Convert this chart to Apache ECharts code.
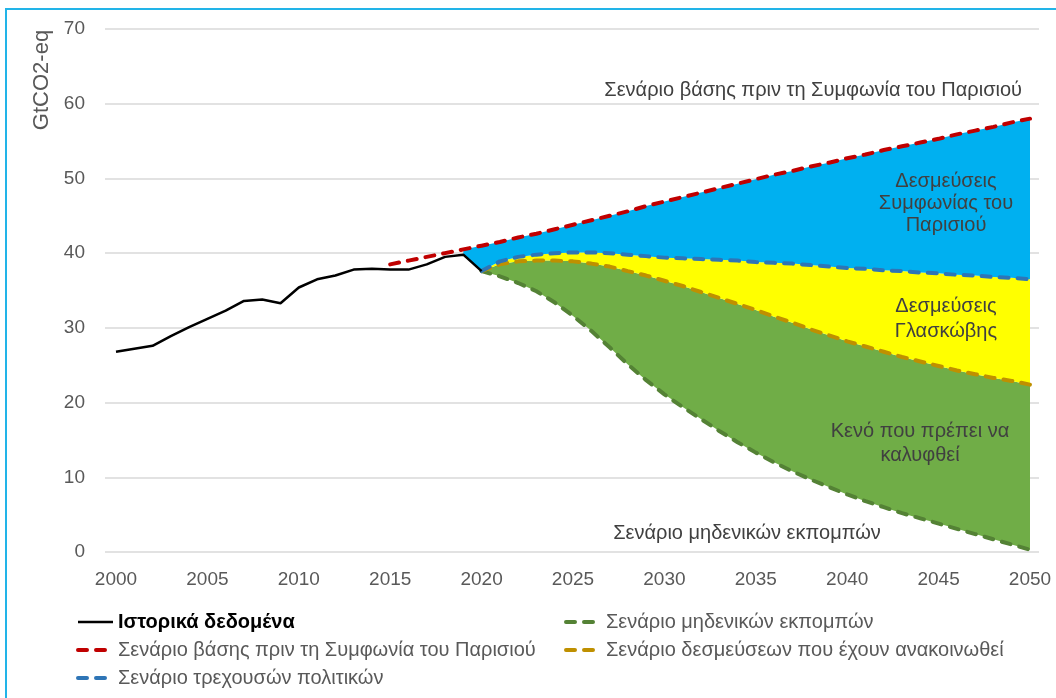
<!DOCTYPE html>
<html>
<head>
<meta charset="utf-8">
<script src="https://cdn.jsdelivr.net/npm/echarts@6/dist/echarts.min.js"></script>
<style>
html, body { margin: 0; padding: 0; background: #fff; }
#frame { position: absolute; left: 5px; top: 8px; width: 1060px; height: 700px; border-top: 2px solid #22b4e8; border-left: 2px solid #22b4e8; }
#main { position: absolute; left: 0; top: 0; width: 1056px; height: 698px; }
</style>
</head>
<body>
<div id="frame"></div>
<div id="main"></div>
<script>
// ---- data (GtCO2-eq) ----
var histYears = [2000, 2001, 2002, 2003, 2004, 2005, 2006, 2007, 2008, 2009, 2010,
  2011, 2012, 2013, 2014, 2015, 2016, 2017, 2018, 2019, 2020];
var histValues = [26.8, 27.2, 27.6, 28.9, 30.1, 31.2, 32.3, 33.6, 33.8, 33.3, 35.4,
  36.5, 37.0, 37.8, 37.9, 37.8, 37.8, 38.5, 39.5, 39.8, 37.6];

var baseYears = [2015, 2016, 2017, 2018, 2019, 2020, 2021, 2022, 2023, 2024, 2025,
  2026, 2027, 2028, 2029, 2030, 2031, 2032, 2033, 2034, 2035, 2036, 2037, 2038,
  2039, 2040, 2041, 2042, 2043, 2044, 2045, 2046, 2047, 2048, 2049, 2050];
var baseValues = [38.5, 39.0, 39.5, 40.0, 40.5, 41.0, 41.5, 42.1, 42.6, 43.2, 43.8,
  44.4, 45.0, 45.6, 46.3, 46.9, 47.5, 48.1, 48.7, 49.3, 49.9, 50.5, 51.0, 51.6,
  52.1, 52.7, 53.2, 53.8, 54.3, 54.8, 55.3, 55.9, 56.4, 56.9, 57.5, 58.0];

var projYears = [2020, 2021, 2022, 2023, 2024, 2025, 2026, 2027, 2028, 2029, 2030,
  2031, 2032, 2033, 2034, 2035, 2036, 2037, 2038, 2039, 2040, 2041, 2042, 2043,
  2044, 2045, 2046, 2047, 2048, 2049, 2050];
var currentValues = [37.6, 38.9, 39.5, 39.8, 40.0, 40.1, 40.1, 40.0, 39.8, 39.6, 39.4,
  39.3, 39.2, 39.1, 39.0, 38.8, 38.7, 38.6, 38.4, 38.2, 38.0, 37.9, 37.7, 37.6,
  37.4, 37.3, 37.1, 37.0, 36.8, 36.7, 36.5];
var pledgeValues = [37.6, 38.5, 38.9, 39.0, 39.0, 38.9, 38.6, 38.2, 37.6, 37.0, 36.3,
  35.6, 34.8, 34.0, 33.2, 32.4, 31.5, 30.7, 29.8, 29.0, 28.2, 27.5, 26.8, 26.1,
  25.5, 24.9, 24.3, 23.8, 23.3, 22.9, 22.4];
var zeroValues = [37.6, 36.9, 36.0, 34.9, 33.4, 31.6, 29.6, 27.4, 25.1, 23.0, 21.1,
  19.4, 17.8, 16.2, 14.7, 13.3, 12.0, 10.8, 9.7, 8.7, 7.7, 6.8, 6.0, 5.2,
  4.5, 3.8, 3.1, 2.4, 1.7, 1.0, 0.3];

var histName = "Ιστορικά δεδομένα";
var baseName = "Σενάριο βάσης πριν τη Συμφωνία του Παρισιού";
var currentName = "Σενάριο τρεχουσών πολιτικών";
var zeroName = "Σενάριο μηδενικών εκπομπών";
var pledgeName = "Σενάριο δεσμεύσεων που έχουν ανακοινωθεί";

var FONT = "'Liberation Sans', Arial, sans-serif";

// x categories 2000..2050
var years = [];
for (var yr = 2000; yr <= 2050; yr++) years.push(String(yr));

function onYears(xs, ys) {
  return years.map(function (y) {
    var i = xs.indexOf(+y);
    return i < 0 ? "-" : ys[i];
  });
}

// coloured bands start at the last historical point before the 2020 drop
var h19 = histValues[histYears.indexOf(2019)];
var fillYears = [2019].concat(projYears);
var zeroF = [h19].concat(zeroValues);
var pledgeF = [h19].concat(pledgeValues);
var currentF = [h19].concat(currentValues);
var baseF = fillYears.map(function (y) { return baseValues[baseYears.indexOf(y)]; });

function band(name, lower, upper, color) {
  var s = {
    name: name, type: "line", stack: "bands", symbol: "none", silent: true,
    lineStyle: { opacity: 0 },
    data: onYears(fillYears, upper.map(function (v, i) { return v - (lower ? lower[i] : 0); }))
  };
  if (color) s.areaStyle = { color: color, opacity: 1 };
  return s;
}

function dashed(name, xs, ys, color) {
  return {
    name: name, type: "line", symbol: "none", color: color,
    lineStyle: { color: color, width: 4, type: [9, 9], cap: "round" },
    data: onYears(xs, ys)
  };
}

// text placed on the plot
function note(x, y, text, align, lineHeight) {
  return {
    type: "text", x: x, y: y, z: 100,
    style: { text: text, font: "20px " + FONT, fill: "#404040", align: align, verticalAlign: "middle", lineHeight: lineHeight || 22 }
  };
}

var legendBase = {
  orient: "vertical", top: 612, height: 100, padding: 0,
  itemGap: 8, itemWidth: 35, itemHeight: 14,
  itemStyle: { opacity: 0 },
  lineStyle: { width: 4 },
  textStyle: { fontSize: 20, color: "#595959", fontFamily: FONT }
};

var chart = echarts.init(document.getElementById("main"));
var option = {
  animation: false,
  grid: [
    { left: 116, right: 26, top: 29, bottom: 146 },
    { left: 105, right: 17, top: 29, bottom: 146 }
  ],
  xAxis: [
    {
      type: "category", data: years, boundaryGap: false, gridIndex: 0,
      axisLine: { show: false }, axisTick: { show: false }, splitLine: { show: false },
      axisLabel: {
        interval: function (i, v) { return +v % 5 === 0; },
        fontSize: 19, color: "#595959", fontFamily: FONT, margin: 18
      }
    },
    { type: "value", gridIndex: 1, min: 0, max: 1, show: false }
  ],
  yAxis: [
    { type: "value", gridIndex: 0, min: 0, max: 70, interval: 10, show: false },
    {
      type: "value", gridIndex: 1, min: 0, max: 70, interval: 10,
      axisLine: { show: false }, axisTick: { show: false },
      axisLabel: { fontSize: 19, color: "#595959", fontFamily: FONT, margin: 20 },
      splitLine: { lineStyle: { color: "#d9d9d9", width: 1.5 } }
    }
  ],
  legend: [
    echarts.util.merge({
      left: 76,
      data: [
        { name: histName, lineStyle: { width: 2.5 }, textStyle: { fontWeight: "bold", color: "#000" } },
        baseName, currentName
      ]
    }, legendBase),
    echarts.util.merge({ left: 564, data: [zeroName, pledgeName] }, legendBase)
  ],
  graphic: [
    { type: "text", x: 42, y: 80, rotation: Math.PI / 2, z: 100,
      style: { text: "GtCO2-eq", font: "22px " + FONT, fill: "#595959", align: "center", verticalAlign: "middle" } },
    note(1022, 90, baseName, "right"),
    note(946, 203, "Δεσμεύσεις\nΣυμφωνίας του\nΠαρισιού", "center", 22),
    note(946, 319, "Δεσμεύσεις\nΓλασκώβης", "center", 25),
    note(920, 443, "Κενό που πρέπει να\nκαλυφθεί", "center", 24),
    note(747, 533, zeroName, "center")
  ],
  series: [
    band("band-base", null, zeroF, null),
    band("band-gap", zeroF, pledgeF, "#70ad47"),
    band("band-glasgow", pledgeF, currentF, "#ffff00"),
    band("band-paris", currentF, baseF, "#00b0f0"),
    dashed(zeroName, projYears, zeroValues, "#548235"),
    dashed(pledgeName, projYears, pledgeValues, "#bf9000"),
    dashed(currentName, projYears, currentValues, "#2e75b6"),
    dashed(baseName, baseYears, baseValues, "#c00000"),
    {
      name: histName, type: "line", symbol: "none", color: "#000",
      lineStyle: { color: "#000", width: 2.5 },
      data: onYears(histYears, histValues)
    }
  ]
};
chart.setOption(option);
</script>
</body>
</html>
